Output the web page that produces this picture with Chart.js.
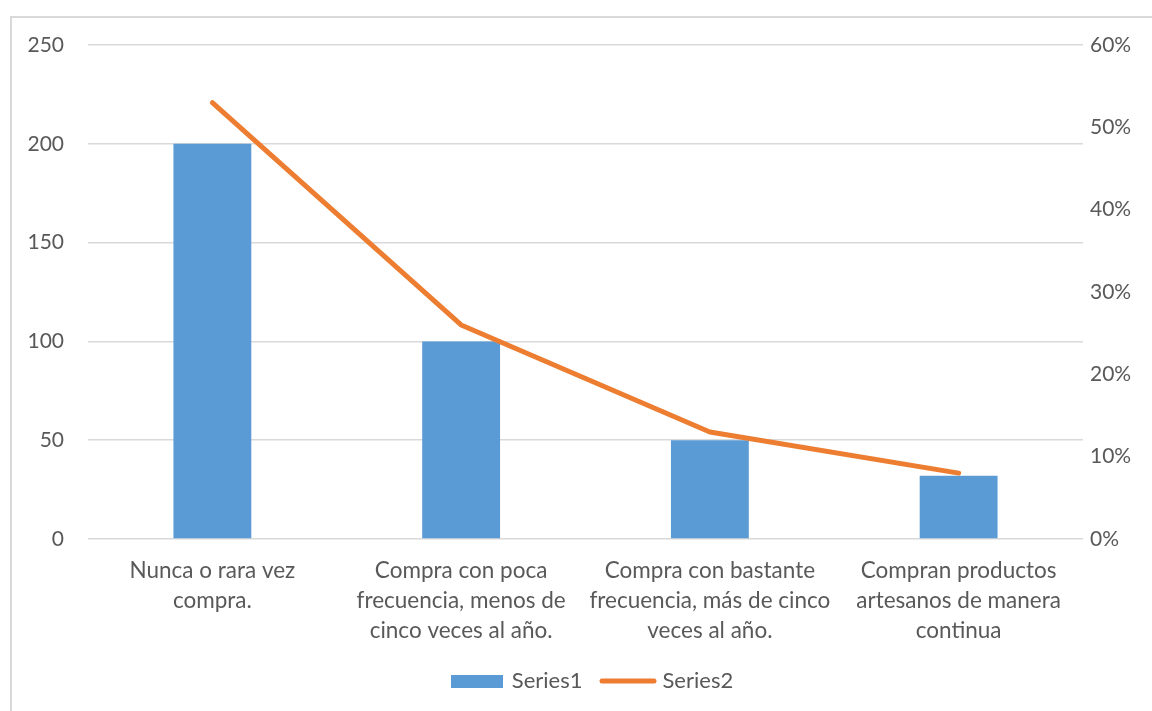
<!DOCTYPE html>
<html lang="es">
<head>
<meta charset="UTF-8">
<title>Frecuencia de compra</title>
<style>
  body { margin: 0; background: #fff; }
  #wrap { position: relative; width: 1152px; height: 711px; overflow: hidden; }
  #frame { position: absolute; left: 10px; top: 16px; width: 1200px; height: 800px; border: 2px solid #d9d9d9; box-sizing: border-box; }
  #chart-box { position: absolute; left: 0; top: 0; width: 1152px; height: 711px; }
</style>
</head>
<body>
<div id="wrap">
  <div id="frame"></div>
  <div id="chart-box"><canvas id="myChart" width="1152" height="711"></canvas></div>
</div>
<script src="https://cdn.jsdelivr.net/npm/chart.js"></script>
<script>
// data
const categories = [
  ['Nunca o rara vez', 'compra.'],
  ['Compra con poca', 'frecuencia, menos de', 'cinco veces al año.'],
  ['Compra con bastante', 'frecuencia, más de cinco', 'veces al año.'],
  ['Compran productos', 'artesanos de manera', 'continua']
];
const series1 = [200, 100, 50, 32];
const series2 = [0.53, 0.26, 0.13, 0.08];
const leftTicks = [0, 50, 100, 150, 200, 250];
const rightTicks = [0, 0.1, 0.2, 0.3, 0.4, 0.5, 0.6];

const BLUE = '#5B9BD5';
const ORANGE = '#ED7D31';
const TEXT = '#595959';
const GRID = '#D9D9D9';
const FONT = 'Lato, "Open Sans", sans-serif';

// little legend swatches
function swatchBar() {
  const c = document.createElement('canvas');
  c.width = 52; c.height = 13;
  const g = c.getContext('2d');
  g.fillStyle = BLUE;
  g.fillRect(0, 0, 52, 13);
  return c;
}
function swatchLine() {
  const c = document.createElement('canvas');
  c.width = 58; c.height = 8;
  const g = c.getContext('2d');
  g.strokeStyle = ORANGE;
  g.lineWidth = 5;
  g.lineCap = 'round';
  g.beginPath();
  g.moveTo(3, 4);
  g.lineTo(55, 4);
  g.stroke();
  return c;
}
const swatches = [swatchBar(), swatchLine()];

// nudge legend a bit right, like the excel one
const legendShift = {
  id: 'legendShift',
  afterLayout(chart) {
    chart.legend.left += 8;
    chart.legend.right += 8;
  }
};

const ctx = document.getElementById('myChart').getContext('2d');
new Chart(ctx, {
  type: 'bar',
  data: {
    labels: categories,
    datasets: [
      {
        label: 'Series1',
        data: series1,
        backgroundColor: BLUE,
        yAxisID: 'y',
        barPercentage: 0.313,
        categoryPercentage: 1,
        order: 1
      },
      {
        type: 'line',
        label: 'Series2',
        data: series2,
        borderColor: ORANGE,
        backgroundColor: ORANGE,
        borderWidth: 5,
        borderCapStyle: 'round',
        borderJoinStyle: 'round',
        pointRadius: 0,
        tension: 0,
        yAxisID: 'y1',
        order: 0
      }
    ]
  },
  options: {
    responsive: false,
    animation: false,
    devicePixelRatio: 1,
    layout: { padding: { top: 45, left: 0, right: 0, bottom: 9 } },
    plugins: {
      tooltip: { enabled: false },
      legend: {
        position: 'bottom',
        fullSize: false,
        labels: {
          usePointStyle: true,
          pointStyleWidth: 47,
          padding: 22,
          color: TEXT,
          font: { family: FONT, size: 22 },
          generateLabels: chart => chart.data.datasets.map((ds, i) => ({
            text: ds.label,
            pointStyle: swatches[i],
            fillStyle: ds.backgroundColor,
            strokeStyle: ds.borderColor,
            lineWidth: 0,
            fontColor: TEXT,
            hidden: false,
            datasetIndex: i
          }))
        }
      }
    },
    scales: {
      x: {
        grid: { display: false, drawTicks: false },
        border: { display: false },
        ticks: {
          color: TEXT,
          padding: 17,
          maxRotation: 0,
          autoSkip: false,
          font: { family: FONT, size: 22.5, lineHeight: 1.333 }
        },
        afterFit: s => { s.height = 109; }
      },
      y: {
        position: 'left',
        min: 0,
        max: 250,
        afterBuildTicks: s => { s.ticks = leftTicks.map(v => ({ value: v })); },
        grid: { color: GRID, lineWidth: 1.5, drawTicks: false },
        border: { display: false },
        ticks: {
          color: TEXT,
          padding: 24,
          font: { family: FONT, size: 21 }
        },
        afterFit: s => { s.width = 88; }
      },
      y1: {
        position: 'right',
        min: 0,
        max: 0.6,
        afterBuildTicks: s => { s.ticks = rightTicks.map(v => ({ value: v })); },
        grid: { display: false, drawTicks: false },
        border: { display: false },
        ticks: {
          color: TEXT,
          padding: 7,
          font: { family: FONT, size: 21 },
          callback: v => Math.round(v * 100) + '%'
        },
        afterFit: s => { s.width = 69; }
      }
    }
  },
  plugins: [legendShift]
});
</script>
</body>
</html>
